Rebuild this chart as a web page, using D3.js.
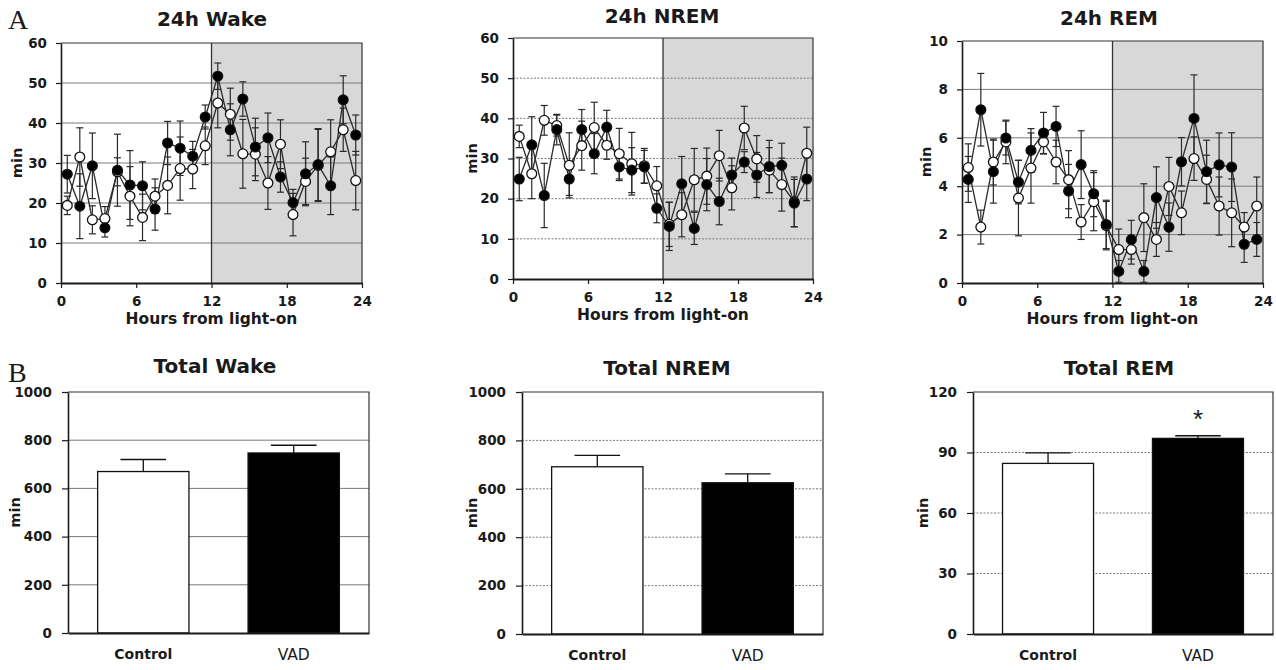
<!DOCTYPE html>
<html><head><meta charset="utf-8">
<script src="https://cdn.jsdelivr.net/npm/d3@7"></script>
<style>body{margin:0;background:#fff}svg{display:block}</style>
</head><body><svg id="c" width="1276" height="670"></svg>
<script>
// ---------- DATA ----------
const hours = [0.5,1.5,2.5,3.5,4.5,5.5,6.5,7.5,8.5,9.5,10.5,11.5,12.5,13.5,14.5,15.5,16.5,17.5,18.5,19.5,20.5,21.5,22.5,23.5];
const hourTicks = [0,6,12,18,24];

const wakeVAD     = [27.2,19.2,29.3,13.8,28.2,24.5,24.3,18.5,35.0,33.7,31.7,41.5,51.7,38.3,46.0,34.0,36.3,26.5,20.1,27.3,29.6,24.3,45.8,37.0];
const wakeVADsem  = [4.7,8.1,8.2,2.3,9.0,8.6,6.0,5.3,5.4,6.8,3.7,3.0,3.3,6.5,4.3,7.2,6.2,3.8,3.3,8.0,9.0,7.2,6.0,5.0];
const wakeCtrl    = [19.4,31.5,15.8,16.1,27.8,21.7,16.4,21.7,24.4,28.6,28.5,34.3,45.0,42.2,32.3,32.2,25.0,34.7,17.1,25.4,29.4,32.8,38.3,25.6];
const wakeCtrlsem = [2.3,7.3,3.5,3.0,3.5,7.4,5.8,4.3,7.1,7.9,4.9,4.7,6.2,6.5,8.6,6.6,6.6,6.1,5.3,5.8,9.0,8.0,5.4,7.3];

const nremVAD     = [24.9,33.4,20.8,37.2,24.9,37.2,31.2,37.8,27.9,27.1,27.9,17.6,13.1,23.7,12.6,23.5,19.3,25.9,29.1,25.9,28.0,28.3,18.9,24.9];
const nremVADsem  = [5.4,7.0,8.0,3.8,4.1,5.0,5.0,4.2,3.4,5.6,4.1,3.6,6.0,6.8,4.0,6.5,5.8,4.2,2.6,5.6,6.5,5.5,5.9,5.4];
const nremCtrl    = [35.5,26.2,39.5,38.2,28.3,33.2,37.7,33.3,31.2,28.7,28.2,23.2,13.6,16.0,24.7,25.6,30.7,22.7,37.6,29.9,27.1,23.5,19.2,31.3];
const nremCtrlsem = [2.8,6.2,3.7,2.6,8.1,6.1,6.3,3.5,6.3,7.8,4.3,4.8,5.5,5.5,7.8,7.0,6.3,5.5,5.4,5.8,5.6,6.6,6.2,6.5];

const remVAD      = [4.28,7.16,4.6,5.99,4.17,5.48,6.2,6.47,3.8,4.89,3.69,2.42,0.48,1.79,0.48,3.53,2.31,5.01,6.8,4.6,4.88,4.79,1.6,1.8];
const remVADsem   = [0.95,1.5,1.3,0.7,0.9,0.9,0.85,0.83,1.1,1.4,0.95,1.0,0.45,0.8,0.45,1.27,1.0,1.0,1.8,1.3,1.32,1.42,0.75,0.7];
const remCtrl     = [4.77,2.31,5.0,5.83,3.51,4.75,5.83,5.0,4.27,2.52,3.36,2.37,1.38,1.38,2.7,1.8,3.99,2.9,5.14,4.28,3.18,2.9,2.31,3.18];
const remCtrlsem  = [0.98,0.7,0.95,0.9,1.56,1.45,0.5,0.9,1.2,0.72,1.2,1.0,0.85,0.6,1.4,0.7,1.2,0.9,0.9,1.0,1.2,1.4,0.6,1.2];

const groups      = ["Control","VAD"];
const totalWake   = [670, 747];
const totalWakeSem= [50, 32];
const totalNrem   = [691, 625];
const totalNremSem= [47, 37];
const totalRem    = [84.6, 97.0];
const totalRemSem = [5.2, 1.3];

const wakeTicks = [0,10,20,30,40,50,60];
const remTicks  = [0,2,4,6,8,10];
const totTicks  = [0,200,400,600,800,1000];
const totRemTicks = [0,30,60,90,120];

// ---------- DRAW ----------
const svg = d3.select("#c");
const FONT = "'DejaVu Sans', sans-serif";
const INK = "#1a1a1a";

function styleAxisText(sel, size){
  sel.selectAll("text").attr("font-family",FONT).attr("font-weight","bold")
     .attr("font-size",size).attr("fill",INK);
}

function linePanel(c){
  const g = svg.append("g");
  const x = d3.scaleLinear().domain([0,24]).range([c.x0,c.x1]);
  const ymax = c.ticks[c.ticks.length-1];
  const y = d3.scaleLinear().domain([0,ymax]).range([c.y1,c.y0]);
  g.append("rect").attr("x",x(12)).attr("y",y(ymax)).attr("width",x(24)-x(12))
   .attr("height",y(0)-y(ymax)).attr("fill","#d8d8d8");
  g.selectAll(".grid").data(c.ticks.slice(1,-1)).join("line")
   .attr("x1",x(0)).attr("x2",x(24)).attr("y1",d=>y(d)).attr("y2",d=>y(d))
   .attr("stroke","#7a7a7a").attr("stroke-width",1).attr("stroke-dasharray",c.dash||null);
  g.append("line").attr("x1",x(12)).attr("x2",x(12)).attr("y1",y(0)).attr("y2",y(ymax))
   .attr("stroke","#333").attr("stroke-width",1.3);
  g.append("path").attr("d",`M${x(0)},${y(ymax)}H${x(24)}V${y(0)}`)
   .attr("fill","none").attr("stroke","#333").attr("stroke-width",1.2);
  const ay = g.append("g").attr("transform",`translate(${x(0)},0)`)
   .call(d3.axisLeft(y).tickValues(c.ticks).tickFormat(d3.format("d")).tickSize(5).tickPadding(9).tickSizeOuter(0));
  ay.select(".domain").attr("stroke",INK).attr("stroke-width",1.6);
  ay.selectAll(".tick line").attr("stroke",INK).attr("stroke-width",1.2);
  styleAxisText(ay,13.5);
  const ax = g.append("g").attr("transform",`translate(0,${y(0)})`)
   .call(d3.axisBottom(x).tickValues(hourTicks).tickFormat(d3.format("d")).tickSize(5).tickPadding(8).tickSizeOuter(0));
  ax.select(".domain").attr("stroke",INK).attr("stroke-width",2.2);
  ax.selectAll(".tick line").attr("stroke",INK).attr("stroke-width",1.2);
  styleAxisText(ax,13.5);
  const series = [
    {v:c.ctrl, s:c.ctrlSem, fill:"#fff"},
    {v:c.vad,  s:c.vadSem,  fill:"#000"}
  ];
  const line = d3.line().x((d,i)=>x(hours[i])).y(d=>y(d));
  series.forEach(sr=>{
    g.append("path").attr("d",line(sr.v)).attr("fill","none").attr("stroke","#2a2a2a").attr("stroke-width",1.3);
    const eb = g.append("g").attr("stroke","#2a2a2a").attr("stroke-width",1.2);
    sr.v.forEach((v,i)=>{
      const cx = x(hours[i]);
      const lo = Math.max(0,v-sr.s[i]), hi = v+sr.s[i];
      eb.append("line").attr("x1",cx).attr("x2",cx).attr("y1",y(lo)).attr("y2",y(hi));
      eb.append("line").attr("x1",cx-3.5).attr("x2",cx+3.5).attr("y1",y(hi)).attr("y2",y(hi));
      if(v-sr.s[i]>0) eb.append("line").attr("x1",cx-3.5).attr("x2",cx+3.5).attr("y1",y(lo)).attr("y2",y(lo));
    });
  });
  series.forEach(sr=>{
    g.selectAll(null).data(sr.v).join("circle")
     .attr("cx",(d,i)=>x(hours[i])).attr("cy",d=>y(d)).attr("r",4.9)
     .attr("fill",sr.fill).attr("stroke","#111").attr("stroke-width",1.3);
  });
  g.append("text").attr("x",c.tx).attr("y",c.ty).attr("text-anchor","middle")
   .attr("font-family",FONT).attr("font-weight","bold").attr("font-size",20).attr("fill",INK).text(c.title);
  g.append("text").attr("transform",`translate(${c.mx},${(c.y0+c.y1)/2}) rotate(-90)`)
   .attr("text-anchor","middle").attr("dy","0.35em")
   .attr("font-family",FONT).attr("font-weight","bold").attr("font-size",14.5).attr("fill",INK).text("min");
  g.append("text").attr("x",(c.x0+c.x1)/2).attr("y",c.y1+41).attr("text-anchor","middle")
   .attr("font-family",FONT).attr("font-weight","bold").attr("font-size",15.5).attr("fill",INK).text("Hours from light-on");
}

function barPanel(c){
  const g = svg.append("g");
  const ymax = c.ticks[c.ticks.length-1];
  const x = d3.scaleBand().domain(groups).range([c.x0,c.x1]).paddingInner(0.393).paddingOuter(0.197);
  const y = d3.scaleLinear().domain([0,ymax]).range([c.y1,c.y0]);
  g.selectAll(".grid").data(c.ticks.slice(1,-1)).join("line")
   .attr("x1",c.x0).attr("x2",c.x1).attr("y1",d=>y(d)).attr("y2",d=>y(d))
   .attr("stroke","#7a7a7a").attr("stroke-width",1).attr("stroke-dasharray",c.dash||null);
  g.append("path").attr("d",`M${c.x0},${y(ymax)}H${c.x1}V${y(0)}`)
   .attr("fill","none").attr("stroke","#333").attr("stroke-width",1.2);
  const eb = g.append("g").attr("stroke","#111").attr("stroke-width",1.3);
  groups.forEach((gname,i)=>{
    const cx = x(gname)+x.bandwidth()/2, hi = c.vals[i]+c.sems[i];
    eb.append("line").attr("x1",cx).attr("x2",cx).attr("y1",y(c.vals[i])).attr("y2",y(hi));
    eb.append("line").attr("x1",cx-x.bandwidth()/4).attr("x2",cx+x.bandwidth()/4).attr("y1",y(hi)).attr("y2",y(hi));
  });
  g.selectAll(".bar").data(c.vals).join("rect")
   .attr("x",(d,i)=>x(groups[i])).attr("width",x.bandwidth())
   .attr("y",d=>y(d)).attr("height",d=>y(0)-y(d))
   .attr("fill",(d,i)=>i===0?"#fff":"#000").attr("stroke","#111").attr("stroke-width",1.3);
  const ay = g.append("g").attr("transform",`translate(${c.x0},0)`)
   .call(d3.axisLeft(y).tickValues(c.ticks).tickFormat(d3.format("d")).tickSize(6).tickPadding(10).tickSizeOuter(0));
  ay.select(".domain").attr("stroke",INK).attr("stroke-width",1.6);
  ay.selectAll(".tick line").attr("stroke",INK).attr("stroke-width",1.2);
  styleAxisText(ay,13.5);
  const ax = g.append("g").attr("transform",`translate(0,${y(0)})`)
   .call(d3.axisBottom(x).tickSize(0).tickPadding(16).tickSizeOuter(0));
  ax.select(".domain").attr("stroke",INK).attr("stroke-width",2.2);
  ax.selectAll("text").attr("font-family",FONT).attr("fill",INK)
   .attr("font-size",d=>d==="Control"?14:15.5)
   .attr("font-weight",d=>d==="Control"?"bold":"normal");
  g.append("text").attr("x",c.tx).attr("y",c.ty).attr("text-anchor","middle")
   .attr("font-family",FONT).attr("font-weight","bold").attr("font-size",20).attr("fill",INK).text(c.title);
  g.append("text").attr("transform",`translate(${c.mx},${(c.y0+c.y1)/2}) rotate(-90)`)
   .attr("text-anchor","middle").attr("dy","0.35em")
   .attr("font-family",FONT).attr("font-weight","bold").attr("font-size",14.5).attr("fill",INK).text("min");
  if(c.star){
    g.append("text").attr("x",x("VAD")+x.bandwidth()/2).attr("y",y(c.vals[1]+c.sems[1])-8)
     .attr("text-anchor","middle").attr("font-family","'Liberation Sans', Arial, sans-serif")
     .attr("font-size",26).attr("fill",INK).text("*");
  }
}

linePanel({x0:61,x1:362,y0:43,y1:283,ticks:wakeTicks,title:"24h Wake",tx:212,ty:26,mx:17,
  vad:wakeVAD,vadSem:wakeVADsem,ctrl:wakeCtrl,ctrlSem:wakeCtrlsem});
linePanel({x0:513,x1:813,y0:38,y1:279,ticks:wakeTicks,title:"24h NREM",tx:662,ty:23,mx:472,dash:"2,1.5",
  vad:nremVAD,vadSem:nremVADsem,ctrl:nremCtrl,ctrlSem:nremCtrlsem});
linePanel({x0:962,x1:1263,y0:41,y1:283,ticks:remTicks,title:"24h REM",tx:1109,ty:25,mx:926,
  vad:remVAD,vadSem:remVADsem,ctrl:remCtrl,ctrlSem:remCtrlsem});

barPanel({x0:68,x1:369,y0:392,y1:633,ticks:totTicks,title:"Total Wake",tx:215,ty:373,mx:15,
  vals:totalWake,sems:totalWakeSem});
barPanel({x0:522,x1:823,y0:392,y1:634,ticks:totTicks,title:"Total NREM",tx:667,ty:375,mx:472,dash:"2,1.5",
  vals:totalNrem,sems:totalNremSem});
barPanel({x0:973,x1:1273,y0:392,y1:634,ticks:totRemTicks,title:"Total REM",tx:1119,ty:375,mx:923,dash:"2,1.5",
  vals:totalRem,sems:totalRemSem,star:true});

svg.append("text").attr("x",8).attr("y",29).attr("font-family","'Liberation Serif', 'DejaVu Serif', serif")
  .attr("font-size",28).attr("fill",INK).text("A");
svg.append("text").attr("x",8).attr("y",382).attr("font-family","'Liberation Serif', 'DejaVu Serif', serif")
  .attr("font-size",28).attr("fill",INK).text("B");
</script>
</body></html>
